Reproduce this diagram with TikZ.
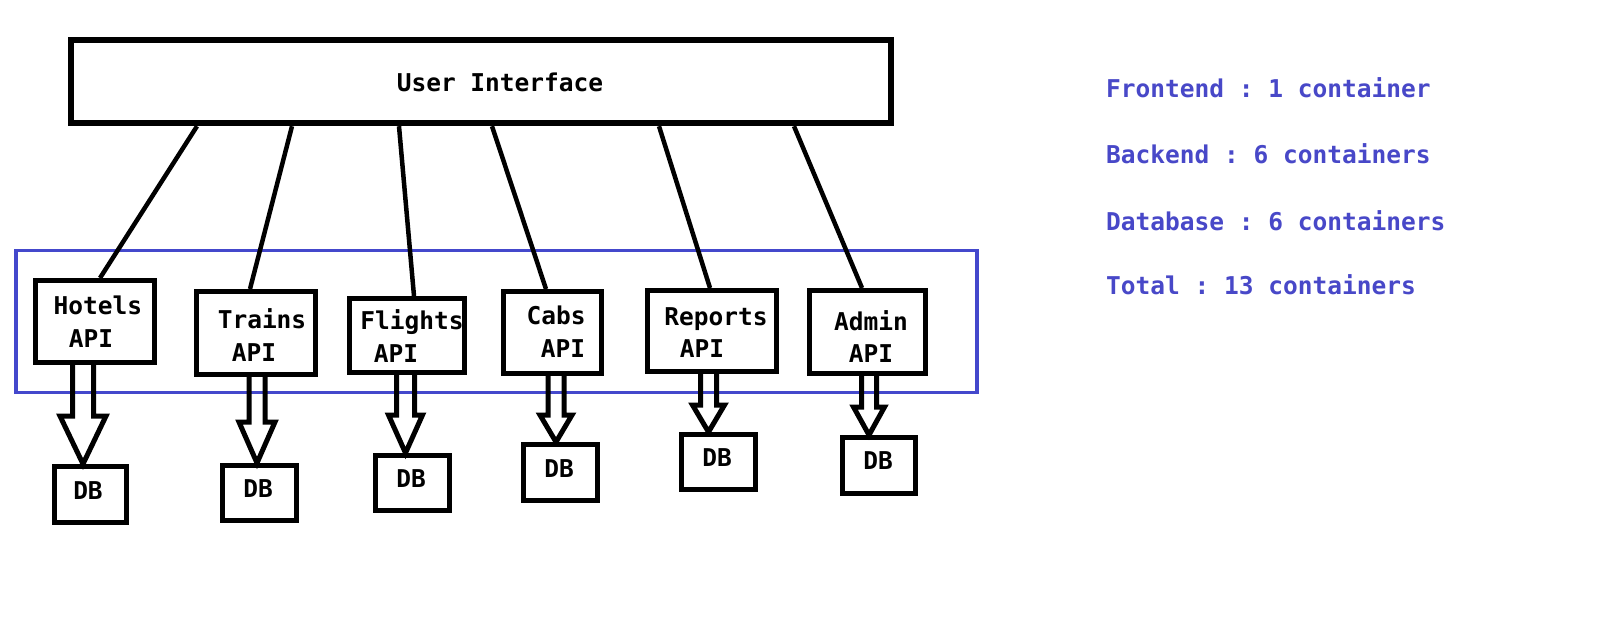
\documentclass[tikz,border=0pt]{standalone}
\usepackage{fontspec}
\setmonofont{DejaVu Sans Mono}
\usetikzlibrary{calc}
\definecolor{ublue}{RGB}{68,72,204}
\definecolor{tblue}{RGB}{72,72,200}
\tikzset{
  box/.style={draw=black,line width=5pt,inner sep=0pt,fill=none},
  uibox/.style={draw=black,line width=6pt,inner sep=0pt},
  lbl/.style={font=\ttfamily\bfseries\fontsize{24.5}{30}\selectfont,inner sep=0pt,anchor=base},
  note/.style={font=\ttfamily\bfseries\fontsize{24.5}{30}\selectfont,text=tblue,inner sep=0pt,anchor=base west},
  conn/.style={draw=black,line width=4.5pt},
  harrow/.style={draw=black,line width=5pt,line join=miter},
  group/.style={draw=ublue,line width=3.5pt}
}
\newcommand\hollowarrow[6]{%
  \draw[harrow] let \p1=(#1.south), \p2=(#2.north) in
    ({(#3-#4)*1pt},\y1) -- ({(#3-#4)*1pt},{-#6pt}) -- ({(#3-#5)*1pt},{-#6pt})
    -- ({#3*1pt},\y2) -- ({(#3+#5)*1pt},{-#6pt}) -- ({(#3+#4)*1pt},{-#6pt})
    -- ({(#3+#4)*1pt},\y1);%
}
\begin{document}
\begin{tikzpicture}[x=1pt,y=-1pt]
\useasboundingbox[fill=white] (0,0) rectangle (1621,626);

% backend group
\draw[group] (16,250.5) rectangle (977,392.5);

% user interface
\node[uibox,minimum width=820pt,minimum height=83pt] (ui) at (481,81.7) {};
\node[lbl] (uit) at (500,91) {User Interface};

% API boxes
\node[box,minimum width=119pt,minimum height=82pt] (hA) at (95,321.5) {};
\node[box,minimum width=119pt,minimum height=83pt] (tA) at (256,333) {};
\node[box,minimum width=115pt,minimum height=74pt] (fA) at (407,335.5) {};
\node[box,minimum width=98pt,minimum height=82pt] (cA) at (552.5,332.5) {};
\node[box,minimum width=129pt,minimum height=81pt] (rA) at (712,331) {};
\node[box,minimum width=116pt,minimum height=83pt] (aA) at (867.5,332) {};

\node[lbl] (hT1) at (98,314) {Hotels};   \node[lbl] (hT2) at (91,347) {API};
\node[lbl] (tT1) at (262,328) {Trains};  \node[lbl] (tT2) at (254,361) {API};
\node[lbl] (fT1) at (412,329) {Flights}; \node[lbl] (fT2) at (396,362) {API};
\node[lbl] (cT1) at (556,324) {Cabs};    \node[lbl] (cT2) at (563,357) {API};
\node[lbl] (rT1) at (716,325) {Reports}; \node[lbl] (rT2) at (702,357) {API};
\node[lbl] (aT1) at (871,330) {Admin};   \node[lbl] (aT2) at (871,362) {API};

% DB boxes
\node[box,minimum width=72pt,minimum height=56pt] (hD) at (90.5,494.5) {};
\node[box,minimum width=74pt,minimum height=55pt] (tD) at (259.5,493) {};
\node[box,minimum width=74pt,minimum height=55pt] (fD) at (412.5,483) {};
\node[box,minimum width=74pt,minimum height=56pt] (cD) at (560.5,472.5) {};
\node[box,minimum width=74pt,minimum height=55pt] (rD) at (718.5,462) {};
\node[box,minimum width=73pt,minimum height=56pt] (aD) at (879,465.5) {};

\node[lbl] (hDt) at (88,499) {DB};
\node[lbl] (tDt) at (258,497) {DB};
\node[lbl] (fDt) at (411,487) {DB};
\node[lbl] (cDt) at (559,477) {DB};
\node[lbl] (rDt) at (717,466) {DB};
\node[lbl] (aDt) at (878,469) {DB};

% connectors UI -> APIs
\draw[conn] ($(ui.south)+(-284,0)$) -- ($(hA.north)+(5,0)$);
\draw[conn] ($(ui.south)+(-189,0)$) -- ($(tA.north)+(-6,0)$);
\draw[conn] ($(ui.south)+(-82,0)$)  -- ($(fA.north)+(7,0)$);
\draw[conn] ($(ui.south)+(11,0)$)   -- ($(cA.north)+(-6.5,0)$);
\draw[conn] ($(ui.south)+(178,0)$)  -- ($(rA.north)+(-2,0)$);
\draw[conn] ($(ui.south)+(313,0)$)  -- ($(aA.north)+(-5.5,0)$);

% hollow arrows API -> DB
\hollowarrow{hA}{hD}{83}{10.5}{23}{416}
\hollowarrow{tA}{tD}{257}{8}{18}{422}
\hollowarrow{fA}{fD}{405.5}{9}{17}{415}
\hollowarrow{cA}{cD}{556}{8}{16}{415}
\hollowarrow{rA}{rD}{708.5}{8}{16}{405}
\hollowarrow{aA}{aD}{869}{7.5}{15.5}{407}

% summary
\node[note] (n1) at (1106,97)  {Frontend : 1 container};
\node[note] (n2) at (1106,163) {Backend : 6 containers};
\node[note] (n3) at (1106,230) {Database : 6 containers};
\node[note] (n4) at (1106,294) {Total : 13 containers};
\end{tikzpicture}
\end{document}
